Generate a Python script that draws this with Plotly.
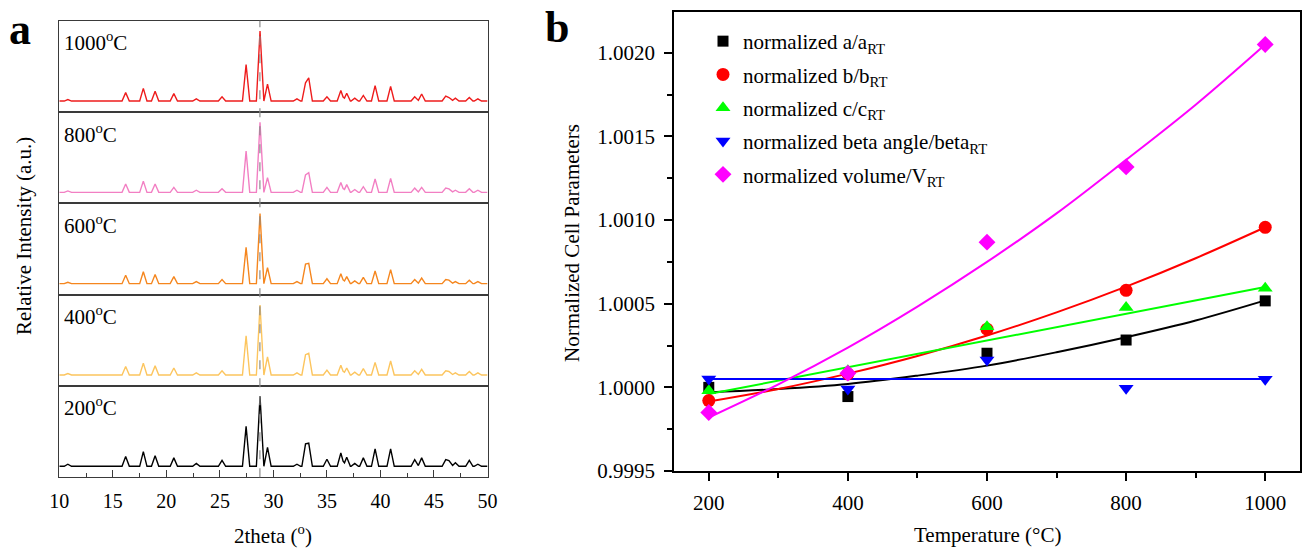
import plotly.graph_objects as go

# ---------------- data: panel a (XRD, peak table) ----------------
peak_2theta = [10.8, 16.2, 17.85, 18.95, 20.7, 22.8, 25.2, 27.45, 28.75, 29.45, 32.2,
               33.0, 33.3, 35.0, 36.3, 36.85, 37.6, 38.4, 39.5, 40.95, 43.2, 43.85,
               46.1, 46.4, 47.0, 48.3, 49.1]
int_200 = [3, 14, 21, 15, 12, 4, 8.5, 57, 100, 27, 3, 32, 33, 10, 19, 13, 4, 12, 25, 25, 9.5, 12, 9.5, 8, 5, 8.5, 3]
int_400 = [2, 12, 17, 13, 10, 3, 6, 56, 100, 26, 3, 29, 31, 7, 14, 10, 4, 9, 18, 20, 6, 8, 6, 5, 3, 5, 3]
int_600 = [2, 12, 17, 13, 10, 3, 6, 52, 100, 23, 3, 28, 29, 7, 14, 10, 4, 9, 18, 20, 6, 8, 6, 5, 3, 5, 3]
int_800 = [2, 12, 16, 12, 7, 3, 5, 59, 100, 21, 3, 25, 28, 7, 14, 11, 4, 8, 19, 20, 6, 7, 6, 5, 3, 5, 3]
int_1000 = [2, 12, 18, 14, 10.6, 3, 6, 52, 100, 24, 3, 26, 33, 6, 15, 11, 4, 8, 22, 21, 6, 10, 7, 5, 4, 5, 3]
xrd_labels = ["200<sup>o</sup>C", "400<sup>o</sup>C", "600<sup>o</sup>C", "800<sup>o</sup>C", "1000<sup>o</sup>C"]
ref_peak = 28.74

# ---------------- data: panel b ----------------
temps = [200, 400, 600, 800, 1000]
norm_a = [1.00000, 0.999945, 1.000204, 1.000283, 1.000517]
norm_b = [0.999921, 1.000080, 1.000348, 1.000580, 1.000957]
norm_c = [0.999980, 1.000100, 1.000362, 1.000477, 1.000592]
norm_beta = [1.000050, 0.999990, 1.000164, 0.999995, 1.000049]
norm_v = [0.999850, 1.000085, 1.000868, 1.001318, 1.002050]

fit_t = [200, 300, 400, 500, 600, 700, 800, 900, 1000]
fit_a = [0.99997, 0.99999, 1.00002, 1.00007, 1.00013, 1.00021, 1.00030, 1.00040, 1.00052]
fit_b = [0.999915, 0.99999, 1.000082, 1.000188, 1.00031, 1.000448, 1.000602, 1.000772, 1.000957]
fit_v = [0.99982, 1.000018, 1.000238, 1.000483, 1.00075, 1.00104, 1.00136, 1.00169, 1.00205]
fit_c_t = [200, 1000]
fit_c = [0.99996, 1.00060]
fit_beta_t = [200, 1000]
fit_beta = [1.00005, 1.00005]

FONT = "Liberation Serif"
W, H = 1303, 549


def fx(p):
    return p / W


def fy(p):
    return 1 - p / H


def profile(pos, hts, hw=0.34):
    xs = sorted(set([10.0, 50.0] + [round(p + d, 4) for p in pos for d in (-hw, 0.0, hw)]))
    ys = [max([0.0] + [h * max(0.0, 1 - abs(x - p) / hw) for p, h in zip(pos, hts)]) for x in xs]
    return xs, ys


fig = go.Figure()
layout = dict(width=W, height=H, margin=dict(l=0, r=0, t=0, b=0, pad=0, autoexpand=False),
              paper_bgcolor="white", plot_bgcolor="white",
              font=dict(family=FONT, size=20, color="black"), showlegend=True)

# panel a geometry
a_top, a_bot = 20.7, 477.3
ph = (a_bot - a_top) / 5
a_x0, a_x1 = 59.3, 487.5
series = [int_200, int_400, int_600, int_800, int_1000]
colors = ["#000000", "#fcc55e", "#f5861e", "#f27fc3", "#ee1c1c"]
annotations = []
for i in range(5):
    k = i + 1
    xs, ys = profile(peak_2theta, series[i])
    xa = "x" if k == 1 else "x%d" % k
    ya = "y" if k == 1 else "y%d" % k
    fig.add_trace(go.Scatter(x=xs, y=ys, mode="lines", xaxis=xa, yaxis=ya,
                             line=dict(color=colors[i], width=1.4), showlegend=False,
                             hoverinfo="skip"))
    bot = a_bot - i * ph
    top = bot - ph
    xkey = "xaxis" if k == 1 else "xaxis%d" % k
    ykey = "yaxis" if k == 1 else "yaxis%d" % k
    xdict = dict(domain=[fx(a_x0), fx(a_x1)], range=[10, 50], anchor=ya, automargin=False,
                 showline=True, linecolor="#3a3a3a", linewidth=1.3, mirror=True,
                 showgrid=False, zeroline=False)
    if k == 1:
        xdict.update(ticks="inside", ticklen=7, tickwidth=1.2, tickcolor="#3a3a3a",
                     tickmode="linear", tick0=10, dtick=5, ticklabelstandoff=6,
                     tickfont=dict(size=20, family=FONT),
                     minor=dict(ticks="inside", ticklen=4, dtick=2.5, tick0=10,
                                tickcolor="#3a3a3a", tickwidth=1.2))
    else:
        xdict.update(matches="x", showticklabels=False, ticks="")
    layout[xkey] = xdict
    layout[ykey] = dict(domain=[fy(bot), fy(top)], range=[-15.7, 114.7], anchor=xa, automargin=False,
                        showline=True, linecolor="#3a3a3a", linewidth=1.3, mirror=True,
                        showticklabels=False, ticks="", showgrid=False, zeroline=False)
    annotations.append(dict(text=xrd_labels[i], x=fx(62), y=fy(top + 21), xref="paper", yref="paper",
                            xanchor="left", yanchor="middle", showarrow=False,
                            font=dict(size=21, family=FONT)))

shapes = [dict(type="line", xref="x", yref="paper", x0=ref_peak, x1=ref_peak,
               y0=fy(a_bot), y1=fy(a_top), line=dict(color="#8a8a8a", width=1.2, dash="dash"))]

# panel b
b_x0, b_x1, b_top, b_bot = 674, 1300, 12, 471
fits = [(fit_t, fit_a, "#000000"), (fit_t, fit_b, "#ff0000"), (fit_c_t, fit_c, "#00ff00"),
        (fit_beta_t, fit_beta, "#0000ff"), (fit_t, fit_v, "#ff00ff")]
for tt, vv, c in fits:
    fig.add_trace(go.Scatter(x=tt, y=vv, mode="lines", xaxis="x6", yaxis="y6",
                             line=dict(color=c, width=2, shape="spline"), showlegend=False,
                             hoverinfo="skip"))
pts = [(norm_a, "#000000", "square", 11, "normalized a/a<sub>RT</sub>"),
       (norm_b, "#ff0000", "circle", 13, "normalized b/b<sub>RT</sub>"),
       (norm_c, "#00ff00", "triangle-up", 13, "normalized c/c<sub>RT</sub>"),
       (norm_beta, "#0000ff", "triangle-down", 13, "normalized beta angle/beta<sub>RT</sub>"),
       (norm_v, "#ff00ff", "diamond", 13, "normalized volume/V<sub>RT</sub>")]
for j, (vv, c, sym, sz, name) in enumerate(pts):
    fig.add_trace(go.Scatter(x=temps, y=vv, mode="markers", xaxis="x6", yaxis="y6",
                             marker=dict(color=c, symbol=sym, size=sz, line=dict(width=0)),
                             name=name, legendgroup="g%d" % j))

layout["xaxis6"] = dict(domain=[fx(b_x0), fx(b_x1)], range=[150, 1050], anchor="y6", automargin=False,
                        showline=True, linecolor="black", linewidth=1.5, mirror=True,
                        ticks="outside", ticklen=8, tickwidth=1.5, tickcolor="black",
                        tickmode="linear", tick0=200, dtick=200, ticklabelstandoff=4,
                        tickfont=dict(size=21, family=FONT),
                        minor=dict(ticks="outside", ticklen=5, dtick=100, tick0=200,
                                   tickcolor="black", tickwidth=1.5),
                        showgrid=False, zeroline=False)
layout["yaxis6"] = dict(domain=[fy(b_bot), fy(b_top)], range=[0.9995, 1.002244], anchor="x6", automargin=False,
                        showline=True, linecolor="black", linewidth=1.5, mirror=True,
                        ticks="outside", ticklen=8, tickwidth=1.5, tickcolor="black",
                        tickmode="linear", tick0=0.9995, dtick=0.0005, tickformat=".4f",
                        ticklabelstandoff=5, tickfont=dict(size=21, family=FONT),
                        minor=dict(ticks="outside", ticklen=5, dtick=0.00025, tick0=0.9995,
                                   tickcolor="black", tickwidth=1.5),
                        showgrid=False, zeroline=False)

layout["legend"] = dict(x=fx(703), y=fy(21), xanchor="left", yanchor="top",
                        bgcolor="rgba(0,0,0,0)", borderwidth=0, tracegroupgap=3,
                        font=dict(size=21, family=FONT, color="black"))

# titles and panel letters
annotations += [
    dict(text="2theta (<sup>o</sup>)", x=fx(273), y=fy(534), xref="paper", yref="paper",
         showarrow=False, xanchor="center", yanchor="middle", font=dict(size=21, family=FONT)),
    dict(text="Relative Intensity (a.u.)", x=fx(24), y=fy(236), xref="paper", yref="paper",
         showarrow=False, textangle=-90, xanchor="center", yanchor="middle",
         font=dict(size=21, family=FONT)),
    dict(text="Temperature (°C)", x=fx(988), y=fy(535), xref="paper", yref="paper",
         showarrow=False, xanchor="center", yanchor="middle", font=dict(size=21, family=FONT)),
    dict(text="Normalized Cell Parameters", x=fx(572), y=fy(243), xref="paper", yref="paper",
         showarrow=False, textangle=-90, xanchor="center", yanchor="middle",
         font=dict(size=21, family=FONT)),
    dict(text="<b>a</b>", x=fx(20), y=fy(30), xref="paper", yref="paper", showarrow=False,
         xanchor="center", yanchor="middle", font=dict(size=44, family=FONT)),
    dict(text="<b>b</b>", x=fx(557), y=fy(28), xref="paper", yref="paper", showarrow=False,
         xanchor="center", yanchor="middle", font=dict(size=44, family=FONT)),
]
layout["annotations"] = annotations
layout["shapes"] = shapes
fig.update_layout(**layout)
fig.write_html("out.html")
